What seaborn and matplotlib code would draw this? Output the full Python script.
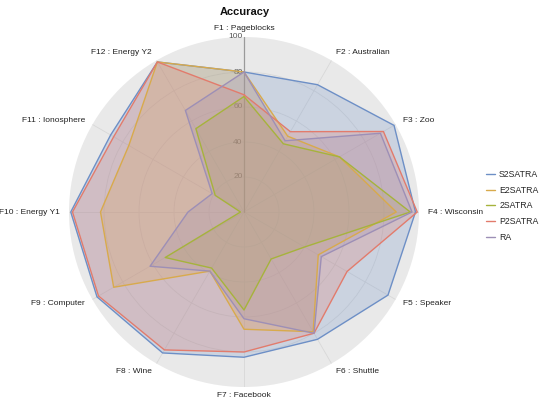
import numpy as np
import pandas as pd
import matplotlib
matplotlib.use("Agg")
import matplotlib.pyplot as plt
import matplotlib.transforms as mtrans
from matplotlib.lines import Line2D
import seaborn as sns

categories = ["F1 : Pageblocks", "F2 : Australian", "F3 : Zoo", "F4 : Wisconsin",
              "F5 : Speaker", "F6 : Shuttle", "F7 : Facebook", "F8 : Wine",
              "F9 : Computer", "F10 : Energy Y1", "F11 : Ionosphere", "F12 : Energy Y2"]
s2satra = [80, 84, 99, 98, 95, 84, 83, 93, 97, 99, 88, 99]
e2satra = [80, 50, 63, 87, 49, 79, 67, 39, 86, 82, 76, 99]
satra2 = [66, 45, 63, 95, 40, 31, 56, 37, 52, 2, 19, 55]
p2satra = [67, 53, 92, 99, 68, 80, 80, 91, 96, 98, 86, 99]
ra = [80, 47, 90, 96, 51, 80, 61, 39, 62, 32, 21, 67]
series_names = ["S2SATRA", "E2SATRA", "2SATRA", "P2SATRA", "RA"]
series_values = [s2satra, e2satra, satra2, p2satra, ra]
radial_ticks = [20, 40, 60, 80, 100]
colors = ["#6d8fc6", "#d8aa4c", "#a6b33c", "#e27b6c", "#9d8fb6"]

sns.set_style("white")
plt.rcParams["font.family"] = ["Liberation Sans", "DejaVu Sans"]

n = len(categories)
theta = np.linspace(0, 2 * np.pi, n, endpoint=False)

rows = []
for name, vals in zip(series_names, series_values):
    for i, v in enumerate(list(vals) + [vals[0]]):
        rows.append({"model": name, "theta": np.append(theta, 2 * np.pi)[i], "value": v, "order": i})
df = pd.DataFrame(rows)

fig = plt.figure(figsize=(5.5, 4.09), dpi=100)
cx, cy, R = 244 / 550, (409 - 212) / 409, 175
ax = fig.add_axes([cx - R / 550, cy - R / 409, 2 * R / 550, 2 * R / 409], projection="polar")
ax.set_theta_zero_location("N")
ax.set_theta_direction(-1)
ax.set_facecolor("#e9e9e9")
ax.spines["polar"].set_visible(False)

sns.lineplot(data=df, x="theta", y="value", hue="model", palette=dict(zip(series_names, colors)),
             hue_order=series_names, sort=False, estimator=None, units="model",
             ax=ax, legend=False, linewidth=1.0, zorder=3)
for name, col in zip(series_names, colors):
    sub = df[df.model == name]
    ax.fill(sub["theta"], sub["value"], color=col, alpha=0.24, lw=0, zorder=2)

ax.set_ylim(0, 100)
ax.set_xticks(theta)
ax.set_xticklabels([])
ax.set_yticks(radial_ticks[:-1])
ax.set_yticklabels([])
ax.grid(True, color="#d8d8d8", lw=0.6)
ax.set_axisbelow(True)
ax.set_xlabel("")
ax.set_ylabel("")
ax.axvline(0, color="#9a9a9a", lw=0.9, zorder=1)

off = mtrans.offset_copy(ax.transData, fig=fig, x=-1.5, y=0, units="dots")
for v in radial_ticks:
    ax.text(0, v, str(v), transform=off, ha="right", va="center", fontsize=6,
            color="#555555", zorder=1)

for t, lab in zip(theta, categories):
    s = np.sin(t)
    ha = "center" if abs(s) < 1e-6 else ("left" if s > 0 else "right")
    ax.text(t, 105, lab, ha=ha, va="center", fontsize=6, color="#222222", clip_on=False)

fig.text(245 / 550, 1 - 12 / 409, "Accuracy", ha="center", va="center", fontsize=8,
         fontweight="bold", color="#111111")

handles = [Line2D([0], [0], color=c, lw=1.0) for c in colors]
fig.legend(handles, series_names, loc="center left", bbox_to_anchor=(486 / 550, 1 - 206 / 409),
           frameon=False, fontsize=6.3, handlelength=1.0, handletextpad=0.5,
           labelspacing=0.75, borderpad=0, borderaxespad=0)

fig.savefig("out.png", dpi=100)
